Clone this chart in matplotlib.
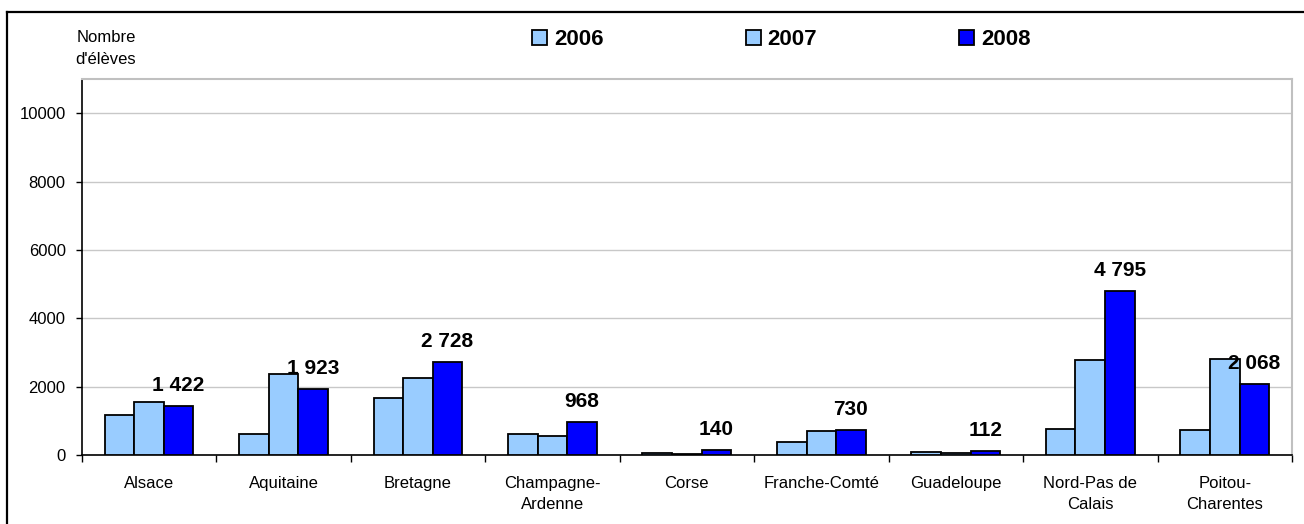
import matplotlib
matplotlib.use("Agg")
import matplotlib.pyplot as plt
from matplotlib.lines import Line2D
import numpy as np

plt.rcParams['font.family'] = ['Liberation Sans', 'DejaVu Sans']

# data
regions = ["Alsace", "Aquitaine", "Bretagne", "Champagne-\nArdenne", "Corse",
           "Franche-Comté", "Guadeloupe", "Nord-Pas de\nCalais", "Poitou-\nCharentes"]
years = ["2006", "2007", "2008"]
eleves_2006 = [1175, 600, 1680, 600, 65, 370, 85, 765, 720]
eleves_2007 = [1555, 2370, 2245, 555, 30, 700, 45, 2775, 2815]
eleves_2008 = [1422, 1923, 2728, 968, 140, 730, 112, 4795, 2068]
yticks = [0, 2000, 4000, 6000, 8000, 10000]

colors = ["#99CCFF", "#99CCFF", "#0000FF"]
W, H = 1304, 524

fig = plt.figure(figsize=(W / 100, H / 100), dpi=100)
ax = fig.add_axes([81.7 / W, 1 - 455 / H, (1292 - 81.7) / W, (455 - 79) / H])

x = np.arange(len(regions))
bw = 0.22
series = [eleves_2006, eleves_2007, eleves_2008]
bars = []
for i, (vals, col) in enumerate(zip(series, colors)):
    b = ax.bar(x + (i - 1) * bw, vals, bw, color=col, edgecolor="black",
               linewidth=1.3, zorder=3, label=years[i])
    bars.append(b)

# value labels on the 2008 bars
for xi, v in zip(x + bw, eleves_2008):
    ax.annotate(f"{v:,}".replace(",", " "), (xi, v), xytext=(0, 15),
                textcoords="offset pixels", ha="center", va="baseline",
                fontsize=15, fontweight="bold", zorder=4)

ax.set_xlim(-0.5, len(regions) - 0.5)
ax.set_ylim(0, 11000)
ax.set_yticks(yticks)
ax.set_yticklabels([str(t) for t in yticks], fontsize=12)
ax.yaxis.grid(True, color="#C8C8C8", linewidth=1, zorder=0)
ax.tick_params(axis="y", length=4.5, width=1, pad=7, colors="black")

# category boundaries as major ticks, names on minor ticks
ax.set_xticks(np.arange(len(regions) + 1) - 0.5)
ax.set_xticklabels([])
ax.set_xticks(x, minor=True)
ax.set_xticklabels(regions, minor=True, fontsize=12, linespacing=1.55)
ax.tick_params(axis="x", which="major", length=5, width=1, direction="out")
ax.tick_params(axis="x", which="minor", length=0, pad=15)

for s in ["top", "right"]:
    ax.spines[s].set_color("#C0C0C0")
    ax.spines[s].set_linewidth(1.5)
for s in ["left", "bottom"]:
    ax.spines[s].set_color("black")
    ax.spines[s].set_linewidth(1.2)

# axis title
fig.text(106 / W, 1 - 30 / H, "Nombre\nd'élèves", ha="center", va="top",
         fontsize=12, linespacing=1.55)

# legend
fig.legend(handles=bars, labels=years, loc="upper left", ncol=3,
           bbox_to_anchor=(532 / W, 1 - 29 / H), frameon=False,
           prop={"weight": "bold", "size": 16}, borderpad=0, borderaxespad=0,
           handlelength=0.68, handleheight=0.68, handletextpad=0.3,
           columnspacing=6.4)

# outer frame (left and top visible)
fig.add_artist(Line2D([7.3 / W, 7.3 / W], [0, 1 - 12 / H], color="black",
                      linewidth=1.6, transform=fig.transFigure))
fig.add_artist(Line2D([7.3 / W, 1], [1 - 12 / H, 1 - 12 / H], color="black",
                      linewidth=1.6, transform=fig.transFigure))

fig.savefig("out.png", dpi=100)
